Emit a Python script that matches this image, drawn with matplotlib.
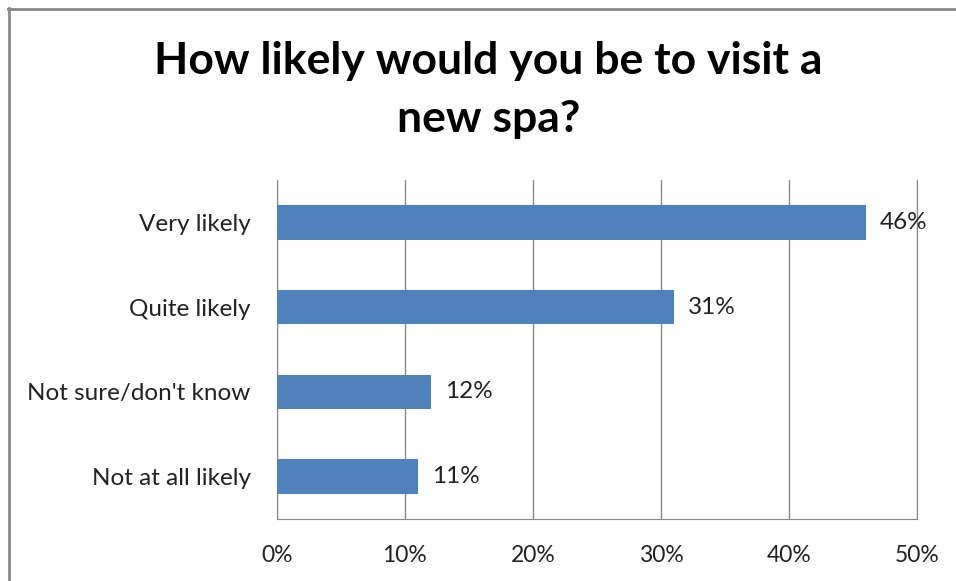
import numpy as np
import matplotlib.pyplot as plt
from matplotlib.lines import Line2D

# data
categories = ["Very likely", "Quite likely", "Not sure/don't know", "Not at all likely"]
values = [46, 31, 12, 11]
ticks = [0, 10, 20, 30, 40, 50]

plt.rcParams['font.family'] = ['Lato', 'DejaVu Sans']

fig = plt.figure(figsize=(9.56, 5.81), dpi=100)
ax = fig.add_axes([0.2897, 0.1067, 0.6695, 0.5835])

y = np.arange(len(categories))
ax.barh(y, values, height=0.41, color="#4F81BD", zorder=3)
for yi, v in zip(y, values):
    ax.text(v + 1.1, yi, f"{v}%", va="center", ha="left", fontsize=17.5, color="#222222")

ax.set_xlim(0, 50)
ax.set_ylim(3.5, -0.5)
ax.set_yticks(y)
ax.set_yticklabels(categories, fontsize=17.5, color="#222222")
ax.set_xticks(ticks)
ax.set_xticklabels([f"{t}%" for t in ticks], fontsize=16.5, color="#222222")
ax.tick_params(axis="both", length=0)
ax.tick_params(axis="x", pad=19)
ax.tick_params(axis="y", pad=19)

ax.grid(axis="x", color="#888888", linewidth=1, zorder=0)
ax.spines["top"].set_visible(False)
for s in ["left", "bottom", "right"]:
    ax.spines[s].set_color("#888888")

fig.text(0.511, 0.845, "How likely would you be to visit a\nnew spa?", ha="center", va="center",
         fontsize=32, fontweight="bold", linespacing=1.55)

# outer border (top and left)
fig.add_artist(Line2D([8/956, 1], [1 - 9/581, 1 - 9/581], color="#888888", linewidth=2, transform=fig.transFigure))
fig.add_artist(Line2D([9/956, 9/956], [0, 1 - 8/581], color="#888888", linewidth=2, transform=fig.transFigure))

fig.savefig("out.png", dpi=100)
